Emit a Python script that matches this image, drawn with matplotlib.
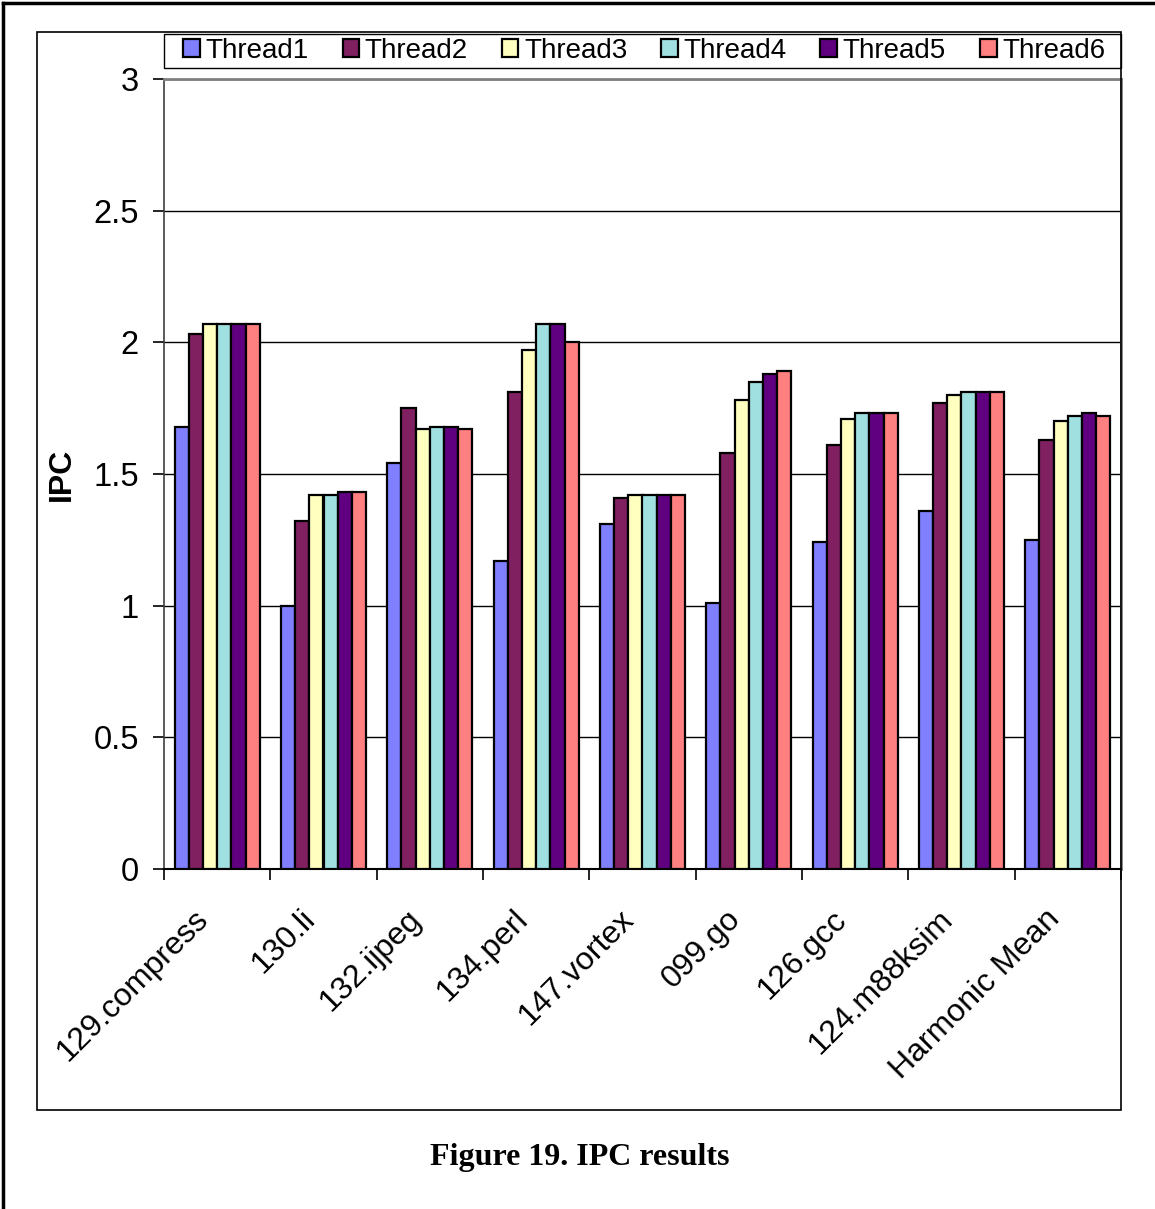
import numpy as np
import matplotlib
matplotlib.use("Agg")
import matplotlib.pyplot as plt
import matplotlib.transforms as mtransforms
from matplotlib.patches import Rectangle
from matplotlib.lines import Line2D

benchmarks = ["129.compress", "130.li", "132.ijpeg", "134.perl", "147.vortex",
              "099.go", "126.gcc", "124.m88ksim", "Harmonic Mean"]
thread_names = ["Thread1", "Thread2", "Thread3", "Thread4", "Thread5", "Thread6"]

thread1 = [1.68, 1.00, 1.54, 1.17, 1.31, 1.01, 1.24, 1.36, 1.25]
thread2 = [2.03, 1.32, 1.75, 1.81, 1.41, 1.58, 1.61, 1.77, 1.63]
thread3 = [2.07, 1.42, 1.67, 1.97, 1.42, 1.78, 1.71, 1.80, 1.70]
thread4 = [2.07, 1.42, 1.68, 2.07, 1.42, 1.85, 1.73, 1.81, 1.72]
thread5 = [2.07, 1.43, 1.68, 2.07, 1.42, 1.88, 1.73, 1.81, 1.73]
thread6 = [2.07, 1.43, 1.67, 2.00, 1.42, 1.89, 1.73, 1.81, 1.72]
series = [thread1, thread2, thread3, thread4, thread5, thread6]

colors = ["#8080FF", "#802060", "#FFFFC0", "#A0E0E0", "#600080", "#FF8080"]

plt.rcParams['font.family'] = ['Liberation Sans', 'DejaVu Sans']

W, H = 1155, 1209
fig = plt.figure(figsize=(W / 100, H / 100), dpi=100)

# plot area in pixels: x 164..1121, y 79..869
ax = fig.add_axes([164 / W, 1 - 869 / H, 957 / W, 790 / H])

x = np.arange(len(benchmarks))
bw = 0.8 / len(series)
for i, vals in enumerate(series):
    ax.bar(x - 0.4 + bw * (i + 0.5), vals, width=bw, color=colors[i],
           edgecolor="black", linewidth=1.6, label=thread_names[i], zorder=3)

ax.set_xlim(-0.5, len(benchmarks) - 0.5)
ax.set_ylim(0, 3)
ax.set_yticks(np.arange(0, 3.01, 0.5))
ax.set_yticklabels(["0", "0.5", "1", "1.5", "2", "2.5", "3"], fontsize=23.5)
ax.yaxis.grid(True, color="black", linewidth=1.0, zorder=0)
ax.tick_params(axis="y", length=8, width=1.2, pad=10)

ax.set_xticks(x)
ax.set_xticklabels(benchmarks, fontsize=23, rotation=45, ha="right",
                   va="center", rotation_mode="anchor")
ax.tick_params(axis="x", which="major", length=0, pad=33)
shift = mtransforms.ScaledTranslation(-0.13, 0, fig.dpi_scale_trans)
for lab in ax.get_xticklabels():
    lab.set_transform(lab.get_transform() + shift)
ax.set_xticks(np.arange(-0.5, len(benchmarks)), minor=True)
ax.tick_params(axis="x", which="minor", length=8, width=1.2)

for side in ["top", "right"]:
    ax.spines[side].set_color("#808080")
    ax.spines[side].set_linewidth(2)
ax.spines["left"].set_color("#404040")
ax.spines["left"].set_linewidth(1.2)
ax.spines["bottom"].set_linewidth(1.5)

ax.set_ylabel("IPC", fontsize=23, fontweight="bold", labelpad=12)

# legend: entries spaced like the original, frame drawn separately
handles, labels = ax.get_legend_handles_labels()
leg = fig.legend(handles, labels, ncol=6, loc="center left",
                 bbox_to_anchor=(179 / W, 1 - 51 / H),
                 fontsize=20, frameon=False, handlelength=0.6, handleheight=0.6,
                 handletextpad=0.2, borderaxespad=0, borderpad=0.15,
                 columnspacing=1.22)
fig.patches.append(Rectangle((164 / W, 1 - 68 / H), 957 / W, 34 / H,
                             transform=fig.transFigure, fill=False,
                             edgecolor="black", linewidth=1.0))

# chart area box
fig.patches.append(Rectangle((37 / W, 1 - 1110 / H), (1121 - 37) / W, (1110 - 32) / H,
                             transform=fig.transFigure, fill=False,
                             edgecolor="black", linewidth=1.2))
# page border on left and top
fig.lines.append(Line2D([3 / W, 3 / W], [0, 1 - 3 / H], transform=fig.transFigure,
                        color="black", linewidth=2.5))
fig.lines.append(Line2D([3 / W, 1], [1 - 3 / H, 1 - 3 / H], transform=fig.transFigure,
                        color="black", linewidth=2.5))

fig.text(580 / W, 1 - 1157 / H, "Figure 19. IPC results", ha="center", va="center",
         fontsize=23, fontweight="bold", family=["Liberation Serif", "DejaVu Serif"])

fig.savefig("out.png", dpi=100)
